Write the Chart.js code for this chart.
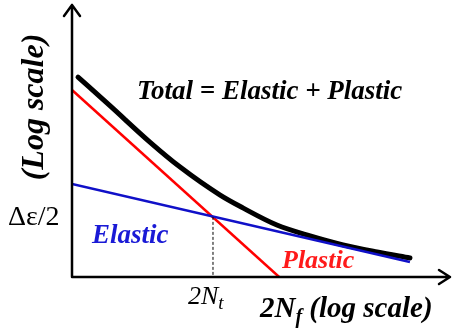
<!DOCTYPE html>
<html>
<head>
<meta charset="utf-8">
<script src="https://cdn.jsdelivr.net/npm/chart.js@4"></script>
<style>
  html, body { margin: 0; padding: 0; background: #fff; }
  canvas { display: block; }
</style>
</head>
<body>
<canvas id="chart" width="453" height="332"></canvas>
<script>
// log(2Nf) along x, log(strain amplitude) along y, arbitrary units 0..10
const plasticX = [0, 5.48];
const plasticY = [6.875, 0];
const elasticX = [0, 8.94];
const elasticY = [3.42, 0.55];
const totalX = [0.16, 1.01, 2.06, 2.86, 3.92, 4.52, 5.42, 6.30, 7.17, 8.07, 8.94];
const totalY = [7.35, 6.29, 4.96, 4.04, 3.01, 2.54, 1.91, 1.51, 1.18, 0.92, 0.70];
const transitionX = [3.73, 3.73];
const transitionY = [2.21, 0];

const pts = (xs, ys) => xs.map((x, i) => ({ x, y: ys[i] }));

const serif = '"Liberation Serif", "Times New Roman", serif';

const annotate = {
  id: 'annotate',
  afterDatasetsDraw(chart) {
    const { ctx, chartArea: a, scales: { x, y } } = chart;
    const x0 = x.getPixelForValue(0);
    const y0 = y.getPixelForValue(0);

    ctx.save();
    ctx.strokeStyle = '#000';
    ctx.lineWidth = 2.5;
    ctx.lineCap = 'round';
    ctx.lineJoin = 'round';

    // axes with open arrow heads
    ctx.beginPath();
    ctx.moveTo(x0, y0);
    ctx.lineTo(x0, a.top);
    ctx.moveTo(x0 - 8, a.top + 11);
    ctx.lineTo(x0, a.top);
    ctx.lineTo(x0 + 8, a.top + 11);
    ctx.moveTo(x0, y0);
    ctx.lineTo(a.right, y0);
    ctx.moveTo(a.right - 11, y0 - 7);
    ctx.lineTo(a.right, y0);
    ctx.lineTo(a.right - 11, y0 + 7);
    ctx.stroke();

    const text = (str, px, py, font, color, align) => {
      ctx.font = font;
      ctx.fillStyle = color;
      ctx.textAlign = align || 'left';
      ctx.textBaseline = 'alphabetic';
      ctx.fillText(str, px, py);
    };

    text('Total = Elastic + Plastic', 137, 99, 'italic bold 27px ' + serif, '#000');
    text('Elastic', 92, 243, 'italic bold 27px ' + serif, '#1a1ad6');
    text('Plastic', 282, 268, 'italic bold 26px ' + serif, '#ff1a1a');
    text('\u0394\u03b5/2', 8, 225, '28px ' + serif, '#000');

    // 2N_t under the transition line
    text('2N', 188, 304, 'italic 26px ' + serif, '#000');
    ctx.font = 'italic 26px ' + serif;
    let w = ctx.measureText('2N').width;
    text('t', 188 + w, 309, 'italic 19px ' + serif, '#000');

    // 2N_f (log scale)
    text('2N', 260, 317, 'italic bold 29px ' + serif, '#000');
    ctx.font = 'italic bold 29px ' + serif;
    w = ctx.measureText('2N').width;
    text('f', 260 + w, 323, 'italic bold 20px ' + serif, '#000');
    ctx.font = 'italic bold 20px ' + serif;
    const wf = ctx.measureText('f').width;
    text(' (log scale)', 260 + w + wf, 317, 'italic bold 29px ' + serif, '#000');

    // rotated y label
    ctx.save();
    ctx.translate(43, 107);
    ctx.rotate(-Math.PI / 2);
    text('(Log scale)', 0, 0, 'italic bold 32px ' + serif, '#000', 'center');
    ctx.restore();

    ctx.restore();
  }
};

new Chart(document.getElementById('chart'), {
  type: 'scatter',
  data: {
    datasets: [
      {
        label: 'Transition',
        data: pts(transitionX, transitionY),
        showLine: true,
        borderColor: '#000',
        borderWidth: 1,
        borderDash: [3, 2],
        pointRadius: 0
      },
      {
        label: 'Elastic',
        data: pts(elasticX, elasticY),
        showLine: true,
        borderColor: '#1010c8',
        borderWidth: 2.5,
        pointRadius: 0
      },
      {
        label: 'Plastic',
        data: pts(plasticX, plasticY),
        showLine: true,
        borderColor: '#ff0000',
        borderWidth: 2.5,
        pointRadius: 0
      },
      {
        label: 'Total',
        data: pts(totalX, totalY),
        showLine: true,
        borderColor: '#000',
        borderWidth: 5,
        borderCapStyle: 'round',
        cubicInterpolationMode: 'monotone',
        pointRadius: 0
      }
    ]
  },
  options: {
    responsive: false,
    animation: false,
    layout: {
      padding: { left: 72, right: 3, top: 5, bottom: 55 }
    },
    plugins: {
      legend: { display: false },
      tooltip: { enabled: false }
    },
    scales: {
      x: { type: 'linear', min: 0, max: 10, display: false },
      y: { type: 'linear', min: 0, max: 10, display: false }
    }
  },
  plugins: [annotate]
});
</script>
</body>
</html>
